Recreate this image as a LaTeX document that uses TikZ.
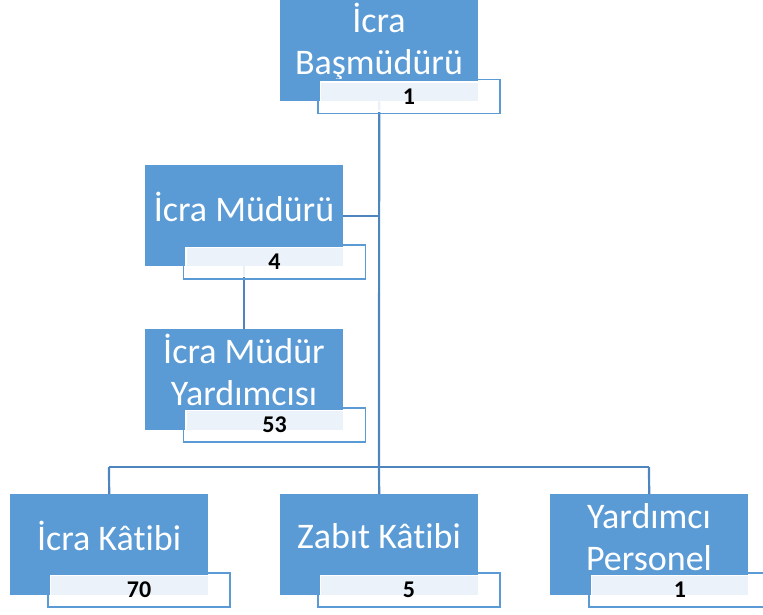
\documentclass[tikz,border=0pt]{standalone}
\usepackage{fontspec}
\setmainfont{Carlito}[Ligatures={NoCommon}]
\definecolor{boxblue}{HTML}{5B9BD5}
\definecolor{linecol}{HTML}{4F85BF}
\definecolor{lblborder}{HTML}{5B9BD5}
\begin{document}
\begin{tikzpicture}[x=1pt,y=-1pt,
  bluebox/.style={fill=boxblue, draw=none, minimum width=198pt, minimum height=101pt, anchor=north west, inner sep=0pt},
  title/.style={text=white, align=center, inner sep=0pt, font=\fontsize{36}{42}\selectfont},
  lbl/.style={draw=white, line width=1.8pt, fill=white, fill opacity=0.88, draw opacity=1, text opacity=1, minimum width=177pt, minimum height=29pt, inner sep=0pt, font=\fontsize{24}{28}\selectfont\bfseries},
  frame/.style={draw=lblborder, line width=1.5pt},
  conn/.style={draw=linecol, line width=2.2pt}]
\useasboundingbox (0,0) rectangle (763,615);
\clip (0,0) rectangle (763,615);
% blue boxes
\node[bluebox] (top) at (280,0) {};
\node[bluebox] (mud) at (145,165) {};
\node[bluebox] (yard) at (145,329) {};
\node[bluebox] (ik) at (10,494) {};
\node[bluebox] (zk) at (280,494) {};
\node[bluebox] (yp) at (550,494) {};
% connectors
\coordinate (bus) at (379,467);
\coordinate (busl) at (109,467);
\coordinate (busr) at (649,467);
\draw[conn] (top.south) -- (bus);
\draw[conn] (mud.east) -- (mud.east -| top.south);
\draw[conn] (mud.south) -- (yard.north);
\draw[conn] (busl) -- (busr);
\draw[conn] (busl) -- (ik.north);
\draw[conn] (bus) -- (zk.north);
\draw[conn] (busr) -- (yp.north);
% titles
\node[title] (ttop) at (379,42) {İcra\\Başmüdürü};
\node[title] (tmud) at (244,207) {İcra Müdürü};
\node[title] (tyard) at (244,370) {İcra Müdür\\Yardımcısı};
\node[title] (tik) at (109,536) {İcra Kâtibi};
\node[title] (tzk) at (379,536) {Zabıt Kâtibi};
\node[title] (typ) at (649,537) {Yardımcı\\Personel};
% number labels
\node[lbl] (ntop) at (409,96.5) {1};
\node[lbl] (nmud) at (274.5,262) {4};
\node[lbl] (nyard) at (274.5,425) {53};
\node[lbl] (nik) at (139,590) {70};
\node[lbl] (nzk) at (409,590) {5};
\node[lbl] (nyp) at (680,590) {1};
\foreach \n in {ntop,nmud,nyard,nik,nzk,nyp}
  \draw[frame] ([xshift=-1.6pt,yshift=1.6pt]\n.north west) rectangle ([xshift=1.6pt,yshift=-1.6pt]\n.south east);
\end{tikzpicture}
\end{document}
